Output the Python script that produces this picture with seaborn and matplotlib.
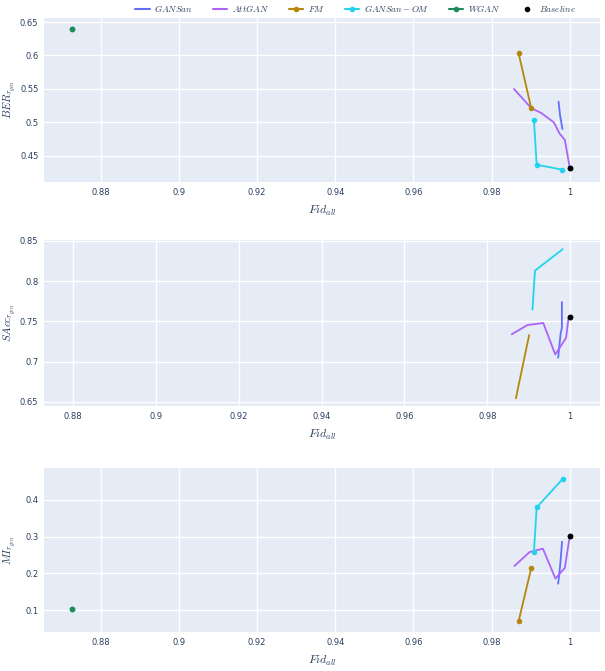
import matplotlib
matplotlib.use('Agg')
import matplotlib.pyplot as plt
import seaborn as sns
import pandas as pd
from matplotlib.ticker import FuncFormatter
from matplotlib.lines import Line2D

# ==========================================
# DATOS
# ==========================================
# Panel 1: BER
ber_gansan_x = [0.9971, 0.9975, 0.9981]
ber_gansan_y = [0.531, 0.510, 0.490]
ber_attgan_x = [0.9857, 0.9901, 0.9927, 0.9959, 0.9974, 0.9987, 1.0]
ber_attgan_y = [0.550, 0.5215, 0.514, 0.500, 0.483, 0.474, 0.4313]
ber_fm_x = [0.9869, 0.9901]
ber_fm_y = [0.603, 0.5215]
ber_om_x = [0.9908, 0.9915, 0.9981]
ber_om_y = [0.504, 0.4368, 0.4294]
ber_wgan_x = [0.8726]
ber_wgan_y = [0.639]
ber_base_x = [1.0]
ber_base_y = [0.4313]

# Panel 2: SAcc
sacc_gansan_x = [0.998, 0.998, 0.9977, 0.9971]
sacc_gansan_y = [0.774, 0.742, 0.735, 0.705]
sacc_attgan_x = [0.9859, 0.9897, 0.9935, 0.9964, 0.9990, 0.9996, 1.0]
sacc_attgan_y = [0.734, 0.7455, 0.748, 0.709, 0.7295, 0.754, 0.756]
sacc_fm_x = [0.9869, 0.9901]
sacc_fm_y = [0.6546, 0.733]
sacc_om_x = [0.9909, 0.9915, 0.9982]
sacc_om_y = [0.7645, 0.813, 0.8396]
sacc_base_x = [1.0]
sacc_base_y = [0.756]

# Panel 3: MI
mi_gansan_x = [0.998, 0.9975, 0.997]
mi_gansan_y = [0.286, 0.220, 0.172]
mi_attgan_x = [0.9858, 0.9897, 0.9931, 0.9963, 0.9987, 1.0]
mi_attgan_y = [0.220, 0.258, 0.267, 0.186, 0.215, 0.303]
mi_fm_x = [0.9869, 0.9901]
mi_fm_y = [0.071, 0.2137]
mi_om_x = [0.9908, 0.9915, 0.9982]
mi_om_y = [0.258, 0.379, 0.457]
mi_wgan_x = [0.8726]
mi_wgan_y = [0.1035]
mi_base_x = [1.0]
mi_base_y = [0.3027]

COLORES = {
    'GANSan': '#636EFA',
    'AttGAN': '#AB63FA',
    'FM': '#B8860B',
    'GANSan-OM': '#22D3EE',
    'WGAN': '#1E8C5A',
    'Baseline': '#000000',
}
TXT = '#2a3f5f'

sns.set_theme(style="darkgrid")
plt.rcParams['font.family'] = ['DejaVu Sans']
plt.rcParams['mathtext.fontset'] = 'cm'

fig = plt.figure(figsize=(6.05, 6.71), dpi=100)
posiciones = [
    [44 / 605, 1 - 182 / 671, 556 / 605, 164 / 671],
    [44 / 605, 1 - 406 / 671, 556 / 605, 166 / 671],
    [44 / 605, 1 - 632 / 671, 556 / 605, 164 / 671],
]
axes = [fig.add_axes(p) for p in posiciones]


def linea(ax, xs, ys, serie, markers):
    df = pd.DataFrame({'x': xs, 'y': ys})
    sns.lineplot(data=df, x='x', y='y', ax=ax, sort=False, estimator=None,
                 color=COLORES[serie], linewidth=1.3,
                 marker='o' if markers else None, markersize=4,
                 markeredgewidth=0)


def puntos(ax, xs, ys, serie):
    df = pd.DataFrame({'x': xs, 'y': ys})
    sns.scatterplot(data=df, x='x', y='y', ax=ax, color=COLORES[serie],
                    s=18, linewidth=0, zorder=5)


# Panel 1
ax = axes[0]
linea(ax, ber_gansan_x, ber_gansan_y, 'GANSan', False)
linea(ax, ber_attgan_x, ber_attgan_y, 'AttGAN', False)
linea(ax, ber_fm_x, ber_fm_y, 'FM', True)
linea(ax, ber_om_x, ber_om_y, 'GANSan-OM', True)
puntos(ax, ber_wgan_x, ber_wgan_y, 'WGAN')
puntos(ax, ber_base_x, ber_base_y, 'Baseline')
ax.set_xlim(0.8655, 1.0077)
ax.set_ylim(0.411, 0.656)
ax.set_yticks([0.45, 0.5, 0.55, 0.6, 0.65])
ax.set_ylabel(r'$BER_{r_{gen}}$')

# Panel 2
ax = axes[1]
linea(ax, sacc_gansan_x, sacc_gansan_y, 'GANSan', False)
linea(ax, sacc_attgan_x, sacc_attgan_y, 'AttGAN', False)
linea(ax, sacc_fm_x, sacc_fm_y, 'FM', False)
linea(ax, sacc_om_x, sacc_om_y, 'GANSan-OM', False)
puntos(ax, sacc_base_x, sacc_base_y, 'Baseline')
ax.set_xlim(0.873, 1.0072)
ax.set_ylim(0.645, 0.851)
ax.set_yticks([0.65, 0.7, 0.75, 0.8, 0.85])
ax.set_ylabel(r'$SAcc_{r_{gen}}$')

# Panel 3
ax = axes[2]
linea(ax, mi_gansan_x, mi_gansan_y, 'GANSan', False)
linea(ax, mi_attgan_x, mi_attgan_y, 'AttGAN', False)
linea(ax, mi_fm_x, mi_fm_y, 'FM', True)
linea(ax, mi_om_x, mi_om_y, 'GANSan-OM', True)
puntos(ax, mi_wgan_x, mi_wgan_y, 'WGAN')
puntos(ax, mi_base_x, mi_base_y, 'Baseline')
ax.set_xlim(0.8655, 1.0077)
ax.set_ylim(0.041, 0.486)
ax.set_yticks([0.1, 0.2, 0.3, 0.4])
ax.set_ylabel(r'$MI_{r_{gen}}$')

fmt = FuncFormatter(lambda v, p: f'{v:g}')
for ax in axes:
    ax.set_facecolor('#E5ECF6')
    ax.grid(True, color='white', linewidth=1)
    ax.set_xticks([0.88, 0.9, 0.92, 0.94, 0.96, 0.98, 1.0])
    ax.xaxis.set_major_formatter(fmt)
    ax.yaxis.set_major_formatter(fmt)
    ax.tick_params(length=0, labelsize=6, colors=TXT, pad=4)
    for s in ax.spines.values():
        s.set_visible(False)
    ax.set_xlabel(r'$Fid_{all}$', fontsize=8.5, color=TXT)
    ax.yaxis.label.set_fontsize(8)
    ax.yaxis.label.set_color(TXT)
    h = ax.get_position().height * 671
    ax.xaxis.set_label_coords(0.5, -22 / h)
    ax.yaxis.set_label_coords(-26 / 556, 0.5)

# Leyenda
handles = [
    Line2D([], [], color=COLORES['GANSan'], lw=1.5),
    Line2D([], [], color=COLORES['AttGAN'], lw=1.5),
    Line2D([], [], color=COLORES['FM'], lw=1.5, marker='o', markersize=3),
    Line2D([], [], color=COLORES['GANSan-OM'], lw=1.5, marker='o', markersize=3),
    Line2D([], [], color=COLORES['WGAN'], lw=1.5, marker='o', markersize=3),
    Line2D([], [], color=COLORES['Baseline'], lw=0, marker='o', markersize=3),
]
labels = [r'$GANSan$', r'$AttGAN$', r'$FM$', r'$GANSan-OM$', r'$WGAN$', r'$Baseline$']
fig.legend(handles, labels, loc='upper center', bbox_to_anchor=(0.588, 1.008),
           ncol=6, frameon=False, fontsize=6.5, handlelength=1.6,
           handletextpad=0.5, columnspacing=2.2, labelcolor=TXT)

plt.savefig('out.png', dpi=100)
